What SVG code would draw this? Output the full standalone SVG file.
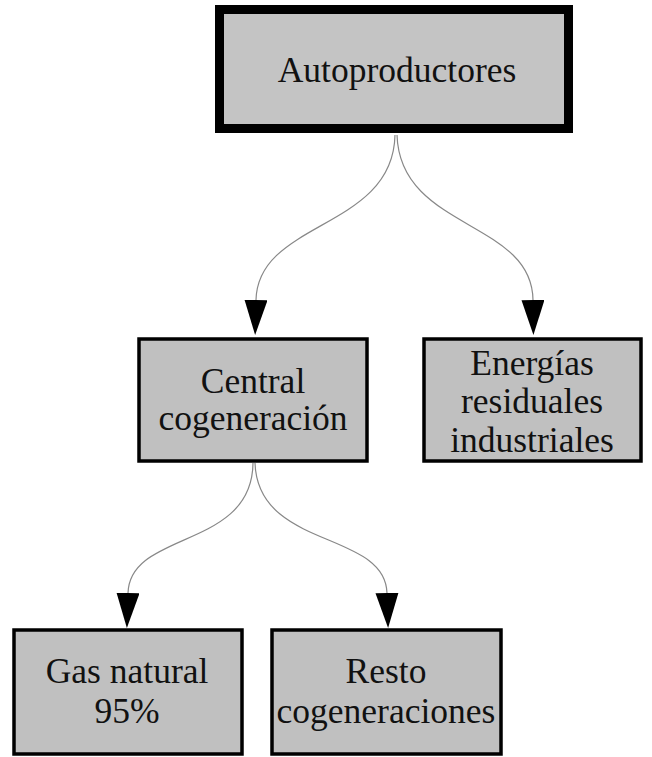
<svg xmlns="http://www.w3.org/2000/svg" width="652" height="757" viewBox="0 0 652 757">
<style>
.box{fill:#c0c0c0;stroke:#000;stroke-width:3.5}
.root{fill:#c4c4c4;stroke:#000;stroke-width:9}
.lbl{font-family:"Liberation Serif","Times New Roman",serif;font-size:35.5px;fill:#111;text-anchor:middle}
.edge{fill:none;stroke:#888;stroke-width:1.2}
</style>
<defs>
<marker id="arr" markerUnits="userSpaceOnUse" markerWidth="36" markerHeight="24" refX="0" refY="11.5" orient="auto">
<path d="M0,0 L35,11.5 L0,23 Z" fill="#000"/>
</marker>
</defs>
<rect width="652" height="757" fill="#fff"/>
<g id="connectors">
<path class="edge" d="M395,135 C393,230 258,220 256,300" marker-end="url(#arr)"/>
<path class="edge" d="M397,135 C400,230 532,220 533,300" marker-end="url(#arr)"/>
<path class="edge" d="M253,463 C252,550 130,530 128,593" marker-end="url(#arr)"/>
<path class="edge" d="M255,463 C258,550 385,530 387,593" marker-end="url(#arr)"/>
</g>
<g id="autoproductores">
<rect class="root" x="219.5" y="9.5" width="349" height="119"/>
<text class="lbl" x="397" y="82">Autoproductores</text>
</g>
<g id="central">
<rect class="box" x="139" y="339" width="228" height="122"/>
<text class="lbl" x="253" y="393">Central</text>
<text class="lbl" x="253" y="430">cogeneración</text>
</g>
<g id="energias">
<rect class="box" x="424" y="339" width="217" height="122"/>
<text class="lbl" x="532" y="375">Energías</text>
<text class="lbl" x="532" y="413">residuales</text>
<text class="lbl" x="532" y="452">industriales</text>
</g>
<g id="gas">
<rect class="box" x="14" y="630" width="228" height="124"/>
<text class="lbl" x="127" y="683">Gas natural</text>
<text class="lbl" x="127" y="723">95%</text>
</g>
<g id="resto">
<rect class="box" x="272" y="630" width="229" height="124"/>
<text class="lbl" x="386" y="683">Resto</text>
<text class="lbl" x="386" y="723">cogeneraciones</text>
</g>
</svg>
